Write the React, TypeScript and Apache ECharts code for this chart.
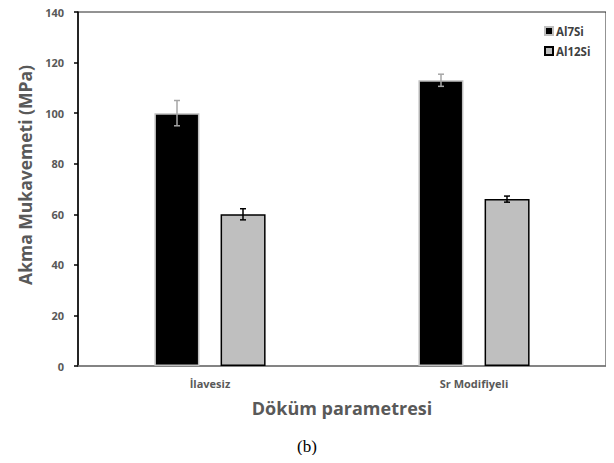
import React, { useEffect, useRef } from "react";
import * as echarts from "echarts";

const categories = ["İlavesiz", "Sr Modifiyeli"];
const seriesNames = ["Al7Si", "Al12Si"];
const al7si = [100, 113];
const al7siErr = [5, 2.4];
const al12si = [60, 66];
const al12siErr = [2.2, 1.2];
const yTicks = { min: 0, max: 140, interval: 20 };
const xTitle = "Döküm parametresi";
const yTitle = "Akma Mukavemeti (MPa)";
const caption = "(b)";

const FONT = "'Open Sans', 'Noto Sans', sans-serif";
const W = 700;

function errorSeries(name: string, values: number[], errs: number[], side: number, color: string) {
  return {
    type: "custom",
    name: name + "-err",
    data: values.map((v, i) => [i, v, errs[i]]),
    z: 5,
    silent: true,
    renderItem: (params: any, api: any) => {
      const idx = api.value(0);
      const v = api.value(1);
      const e = api.value(2);
      const band = api.size([1, 0])[0];
      const off = band * 0.125 * side;
      const top = api.coord([idx, v + e]);
      const bot = api.coord([idx, v - e]);
      const x = top[0] + off;
      const cap = 3;
      const style = { stroke: color, lineWidth: 1.5 };
      return {
        type: "group",
        children: [
          { type: "line", shape: { x1: x, y1: top[1], x2: x, y2: bot[1] }, style },
          { type: "line", shape: { x1: x - cap, y1: top[1], x2: x + cap, y2: top[1] }, style },
          { type: "line", shape: { x1: x - cap, y1: bot[1], x2: x + cap, y2: bot[1] }, style },
        ],
      };
    },
  };
}

export default function App() {
  const ref = useRef<HTMLDivElement>(null);
  useEffect(() => {
    if (!ref.current) return;
    const chart = echarts.init(ref.current, undefined, { renderer: "svg" });
    chart.setOption({
      animation: false,
      backgroundColor: "#ffffff",
      grid: {
        left: 78,
        right: 8,
        top: 12,
        bottom: 97,
        show: true,
        borderColor: "#262626",
        borderWidth: 1,
        containLabel: false,
      },
      legend: {
        orient: "vertical",
        left: 539,
        top: 20,
        icon: "rect",
        itemWidth: 8,
        itemHeight: 8,
        itemGap: 8,
        data: seriesNames,
        textStyle: { fontFamily: FONT, fontWeight: W, fontSize: 11.5, color: "#404040", padding: [0, 0, 0, -2] },
        selectedMode: false,
      },
      xAxis: {
        type: "category",
        data: categories,
        name: xTitle,
        nameLocation: "middle",
        nameGap: 33,
        nameTextStyle: { fontFamily: FONT, fontWeight: W, fontSize: 18, color: "#595959" },
        axisLine: { lineStyle: { color: "#7f7f7f", width: 1.5 } },
        axisTick: { show: false },
        axisLabel: { fontFamily: FONT, fontWeight: W, fontSize: 11, color: "#595959", margin: 12 },
      },
      yAxis: {
        type: "value",
        min: yTicks.min,
        max: yTicks.max,
        interval: yTicks.interval,
        axisLine: { show: true, lineStyle: { color: "#000000", width: 1.5 } },
        axisTick: { show: true, length: 4, lineStyle: { color: "#000000", width: 1.5 } },
        axisLabel: { fontFamily: FONT, fontWeight: W, fontSize: 11, color: "#595959", margin: 14 },
        splitLine: { show: false },
      },
      series: [
        {
          type: "bar",
          name: seriesNames[0],
          data: al7si,
          barWidth: 45,
          barGap: "47%",
          itemStyle: { color: "#000000", borderColor: "#bfbfbf", borderWidth: 1.5 },
        },
        {
          type: "bar",
          name: seriesNames[1],
          data: al12si,
          barWidth: 45,
          barGap: "47%",
          itemStyle: { color: "#bfbfbf", borderColor: "#000000", borderWidth: 1.5 },
        },
        errorSeries(seriesNames[0], al7si, al7siErr, -1, "#a6a6a6"),
        errorSeries(seriesNames[1], al12si, al12siErr, 1, "#000000"),
      ],
      graphic: [
        {
          type: "text",
          x: 25,
          y: 175,
          rotation: Math.PI / 2,
          style: {
            text: yTitle,
            fontFamily: FONT,
            fontWeight: W,
            fontSize: 17.5,
            fill: "#595959",
            textAlign: "center",
            textVerticalAlign: "middle",
          },
        },
        {
          type: "text",
          left: "center",
          top: 438,
          style: { text: caption, fontFamily: "'Liberation Serif', 'DejaVu Serif', serif", fontSize: 17, fill: "#000000" },
        },
      ],
    });
    return () => chart.dispose();
  }, []);
  return <div ref={ref} style={{ width: 614, height: 463, margin: -8 }} />;
}
